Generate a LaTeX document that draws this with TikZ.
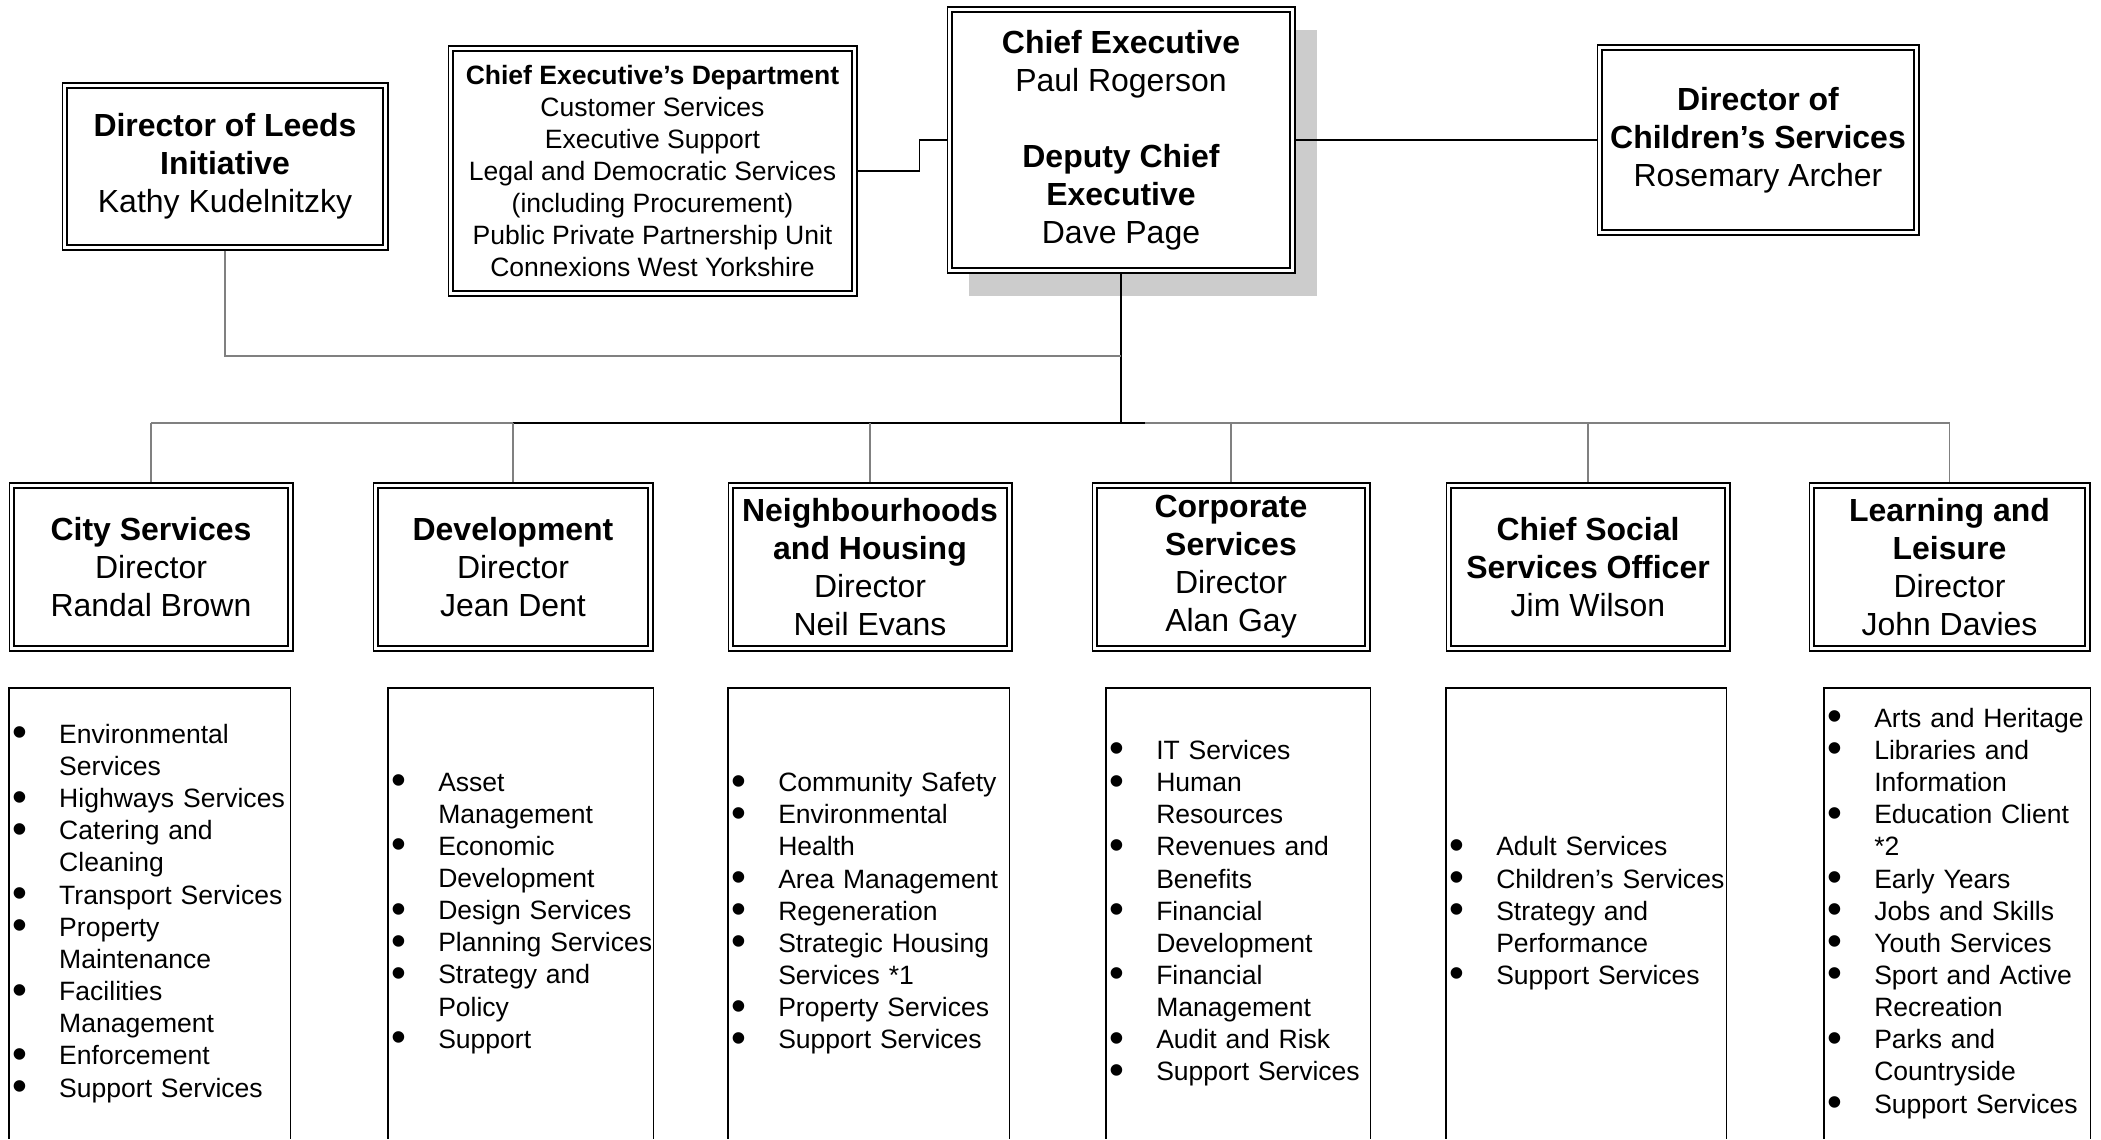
\documentclass[tikz,border=0pt]{standalone}
\usepackage{fontspec}
\setmainfont{Liberation Sans}
\usetikzlibrary{shadows}

\newcommand{\bigtxt}{\fontsize{18.2pt}{21.6pt}\selectfont}
\newcommand{\smalltxt}{\fontsize{15.1pt}{18.3pt}\selectfont}
\newcommand{\itm}[1]{\makebox[26.7pt][l]{\raisebox{-0.13em}{\scalebox{1.6}{\textbullet}}}\mbox{#1}}
\newcommand{\cnt}[1]{\hspace*{26.7pt}\mbox{#1}}

\begin{document}
\begin{tikzpicture}[x=0.02cm, y=-0.02cm,
    every node/.style={inner sep=0pt},
    headbox/.style={draw, fill=white, line width=0.6pt, align=center, font=\bigtxt},
    listbox/.style={anchor=north west, align=left, inner xsep=1.7pt, minimum height=9cm, font=\smalltxt},
    link/.style={draw=black!50, line width=0.6pt},
    mainlink/.style={draw=black, line width=0.6pt}
 ]
\useasboundingbox (0,0) rectangle (2101,1139);

% top row
\node [headbox, minimum width=6.52cm, minimum height=3.34cm] (leeds) at (225,166.5)
    {\textbf{Director of Leeds}\\\textbf{Initiative}\\Kathy Kudelnitzky};
\node [headbox, font=\smalltxt, minimum width=8.18cm, minimum height=5cm] (ced) at (652.5,171)
    {\textbf{Chief Executive’s Department}\\Customer Services\\Executive Support\\
     Legal and Democratic Services\\(including Procurement)\\
     Public Private Partnership Unit\\Connexions West Yorkshire};
\node [headbox, minimum width=6.96cm, minimum height=5.32cm,
       drop shadow={shadow xshift=12.5pt, shadow yshift=-13pt, fill=black!20, opacity=1}] (ce) at (1121,140)
    {\textbf{Chief Executive}\\Paul Rogerson\\[21.6pt]\textbf{Deputy Chief}\\\textbf{Executive}\\Dave Page};
\node [headbox, minimum width=6.44cm, minimum height=3.8cm] (child) at (1758,140)
    {\textbf{Director of}\\\textbf{Children’s Services}\\Rosemary Archer};

% directors
\node [headbox, minimum width=5.68cm, minimum height=3.36cm] (city) at (151,567)
    {\textbf{City Services}\\Director\\Randal Brown};
\node [headbox, minimum width=5.6cm, minimum height=3.36cm] (dev) at (513,567)
    {\textbf{Development}\\Director\\Jean Dent};
\node [headbox, minimum width=5.68cm, minimum height=3.36cm] (nh) at (870,567)
    {\textbf{Neighbourhoods}\\\textbf{and Housing}\\Director\\Neil Evans};
\node [headbox, minimum width=5.56cm, minimum height=3.36cm] (corp) at (1231,567)
    {\textbf{Corporate}\\\textbf{Services}\\Director\\Alan Gay};
\node [headbox, minimum width=5.68cm, minimum height=3.36cm] (csso) at (1588,567)
    {\textbf{Chief Social}\\\textbf{Services Officer}\\Jim Wilson};
\node [headbox, minimum width=5.62cm, minimum height=3.36cm] (ll) at (1949.5,567)
    {\textbf{Learning and}\\\textbf{Leisure}\\Director\\John Davies};

% service lists
\node [listbox, text width=5.50cm] (citylist) at (9,688)
    {\itm{Environmental}\\\cnt{Services}\\\itm{Highways Services}\\\itm{Catering and}\\
     \cnt{Cleaning}\\\itm{Transport Services}\\\itm{Property}\\\cnt{Maintenance}\\
     \itm{Facilities}\\\cnt{Management}\\\itm{Enforcement}\\\itm{Support Services}};
\node [listbox, text width=5.18cm] (devlist) at (388,688)
    {\itm{Asset}\\\cnt{Management}\\\itm{Economic}\\\cnt{Development}\\\itm{Design Services}\\
     \itm{Planning Services}\\\itm{Strategy and}\\\cnt{Policy}\\\itm{Support}};
\node [listbox, text width=5.50cm] (nhlist) at (728,688)
    {\itm{Community Safety}\\\itm{Environmental}\\\cnt{Health}\\\itm{Area Management}\\
     \itm{Regeneration}\\\itm{Strategic Housing}\\\cnt{Services *1}\\\itm{Property Services}\\
     \itm{Support Services}};
\node [listbox, text width=5.16cm] (corplist) at (1106,688)
    {\itm{IT Services}\\\itm{Human}\\\cnt{Resources}\\\itm{Revenues and}\\\cnt{Benefits}\\
     \itm{Financial}\\\cnt{Development}\\\itm{Financial}\\\cnt{Management}\\
     \itm{Audit and Risk}\\\itm{Support Services}};
\node [listbox, text width=5.48cm] (cssolist) at (1446,688)
    {\itm{Adult Services}\\\itm{Children’s Services}\\\itm{Strategy and}\\\cnt{Performance}\\
     \itm{Support Services}};
\node [listbox, text width=5.20cm] (lllist) at (1824,688)
    {\itm{Arts and Heritage}\\\itm{Libraries and}\\\cnt{Information}\\\itm{Education Client}\\
     \cnt{*2}\\\itm{Early Years}\\\itm{Jobs and Skills}\\\itm{Youth Services}\\
     \itm{Sport and Active}\\\cnt{Recreation}\\\itm{Parks and}\\\cnt{Countryside}\\
     \itm{Support Services}};

% inner frame of the double borders
\foreach \n in {leeds,ced,ce,child,city,dev,nh,corp,csso,ll}
  \draw[line width=1.1pt] ([shift={(2.9pt,-2.9pt)}]\n.north west) rectangle ([shift={(-2.9pt,2.9pt)}]\n.south east);
% lists run off the bottom
\foreach \n in {citylist,devlist,nhlist,corplist,cssolist,lllist}
  \draw[line width=0.7pt] (\n.south west) |- (\n.north east) -- (\n.south east);

% connectors
\coordinate (tie) at (1121,356);
\coordinate (bus) at (1121,423);
\draw[mainlink] (ce.south) -- (bus);
\draw[link] (leeds.south) |- (tie);
\draw[mainlink] (ced.east) -- ++(62,0) |- (ce.west);
\draw[mainlink] (ce.east) -- (child.west);
\draw[link] (city.north |- bus) -- (ll.north |- bus);
\draw[line width=1.1pt] (dev.north |- bus) -- ([xshift=0.48cm]bus);
\foreach \d in {city,dev,nh,corp,csso,ll}
  \draw[link] (\d.north |- bus) -- (\d.north);
\end{tikzpicture}
\end{document}
